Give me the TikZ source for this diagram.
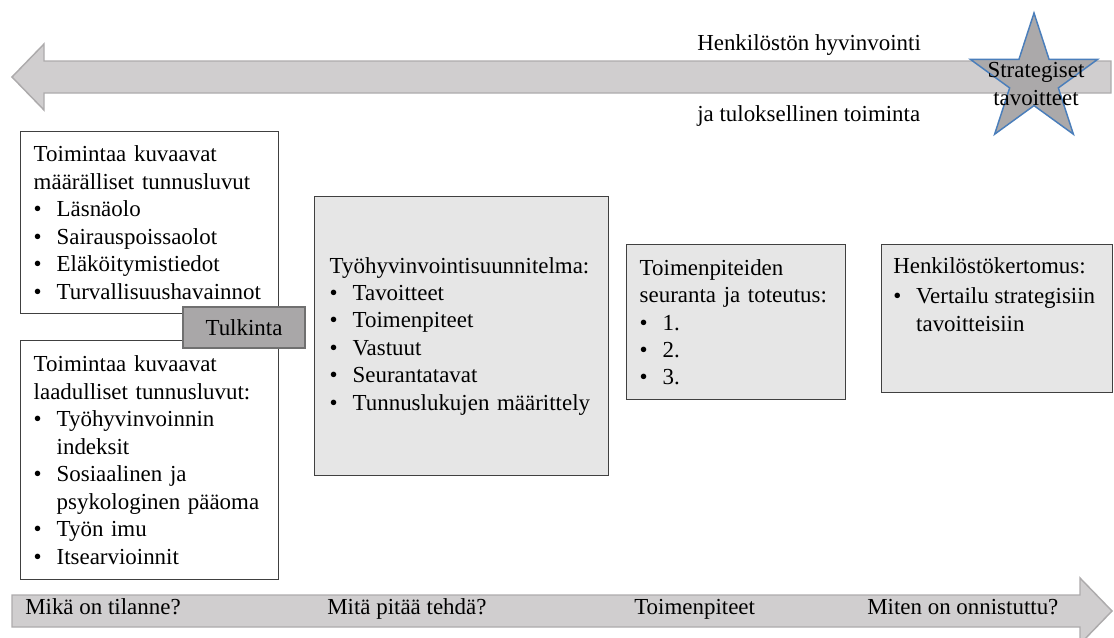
\documentclass[tikz,border=0pt]{standalone}
\usepackage{fontspec}
\setmainfont{Liberation Serif}
\definecolor{arrowfill}{HTML}{D0CECF}
\definecolor{arrowline}{HTML}{ADABAC}
\definecolor{starfill}{HTML}{ABA9AA}
\definecolor{starline}{HTML}{4A7EBB}
\definecolor{boxline}{HTML}{404040}
\definecolor{greyfill}{HTML}{E6E6E6}
\definecolor{tagfill}{HTML}{A9A7A8}
\definecolor{tagline}{HTML}{707070}
\newcommand{\bul}{\makebox[17.2pt][l]{\textbullet}}
\newcommand{\cnt}{\hspace*{17.2pt}}
\tikzset{
  txt/.style={font=\fontsize{17.2pt}{20.6pt}\selectfont},
  label/.style={txt,inner sep=0pt,anchor=base west},
  plainbox/.style={txt,draw=boxline,fill=white,line width=1.1pt,
                   anchor=north west,align=left,inner ysep=0pt},
  greybox/.style={plainbox,fill=greyfill},
  tagbox/.style={txt,draw=tagline,fill=tagfill,line width=1.1pt,
                 minimum width=91.5pt,minimum height=30.75pt,inner sep=0pt},
  bigarrow/.style={draw=arrowline,fill=arrowfill,line width=1.1pt},
  starfig/.style={draw=starline,fill=starfill,line width=1.1pt,line join=miter}
}
\begin{document}
\begin{tikzpicture}[x=0.75pt,y=-0.75pt]
  \useasboundingbox (0,0) rectangle (1114,637);

  \draw[bigarrow] (12,77) -- (44,44) -- (44,61) -- (1111,61) -- (1111,93)
    -- (44,93) -- (44,110) -- cycle;
  \draw[bigarrow] (12,595) -- (1080,595) -- (1080,578) -- (1112,611)
    -- (1080,644) -- (1080,627) -- (12,627) -- cycle;

  \draw[starfig,shift={(1034,80)}] (-90:67) -- (-54:25.6) -- (-18:67)
    -- (18:25.6) -- (54:67) -- (90:25.6) -- (126:67) -- (162:25.6)
    -- (198:67) -- (234:25.6) -- cycle;
  \node[txt,align=center,inner sep=0pt] (goal) at (1036,84)
    {Strategiset\\tavoitteet};

  \node[label] (wellbeing) at (697,50) {Henkilöstön hyvinvointi};
  \node[label] (results) at (697,121) {ja tuloksellinen toiminta};

  \node[plainbox,text width=174pt,inner xsep=9.75pt,minimum height=136.5pt]
    (quant) at (20,131)
    {Toimintaa kuvaavat\\määrälliset tunnusluvut\\\bul Läsnäolo\\
     \bul Sairauspoissaolot\\\bul Eläköitymistiedot\\
     \bul Turvallisuushavainnot};
  \node[plainbox,text width=174pt,inner xsep=9.75pt,minimum height=179.25pt]
    (qual) at (20,340)
    {Toimintaa kuvaavat\\laadulliset tunnusluvut:\\\bul Työhyvinvoinnin\\
     \cnt indeksit\\\bul Sosiaalinen ja\\\cnt psykologinen pääoma\\
     \bul Työn imu\\\bul Itsearvioinnit};
  \node[tagbox] (interp) at (244,327.5) {Tulkinta};

  \node[greybox,text width=198pt,inner xsep=11.25pt,minimum height=209.25pt]
    (plan) at (314,196)
    {Työhyvinvointisuunnitelma:\\\bul Tavoitteet\\\bul Toimenpiteet\\
     \bul Vastuut\\\bul Seurantatavat\\\bul Tunnuslukujen määrittely};

  \node[greybox,text width=144.75pt,inner xsep=9.75pt,minimum height=116.25pt]
    (follow) at (626,244)
    {Toimenpiteiden\\seuranta ja toteutus:\\\bul 1.\\\bul 2.\\\bul 3.};

  \node[greybox,minimum width=173.25pt,minimum height=111pt]
    (report) at (881,244) {};
  \node[txt,inner sep=0pt,anchor=north west,align=left] (reporttext)
    at (893,257)
    {Henkilöstökertomus:\\[2.2pt]\bul Vertailu strategisiin\\\cnt tavoitteisiin};

  \node[label] (now) at (25,614) {Mikä on tilanne?};
  \node[label] (todo) at (327,614) {Mitä pitää tehdä?};
  \node[label] (actions) at (634,614) {Toimenpiteet};
  \node[label] (success) at (867,614) {Miten on onnistuttu?};
\end{tikzpicture}
\end{document}
